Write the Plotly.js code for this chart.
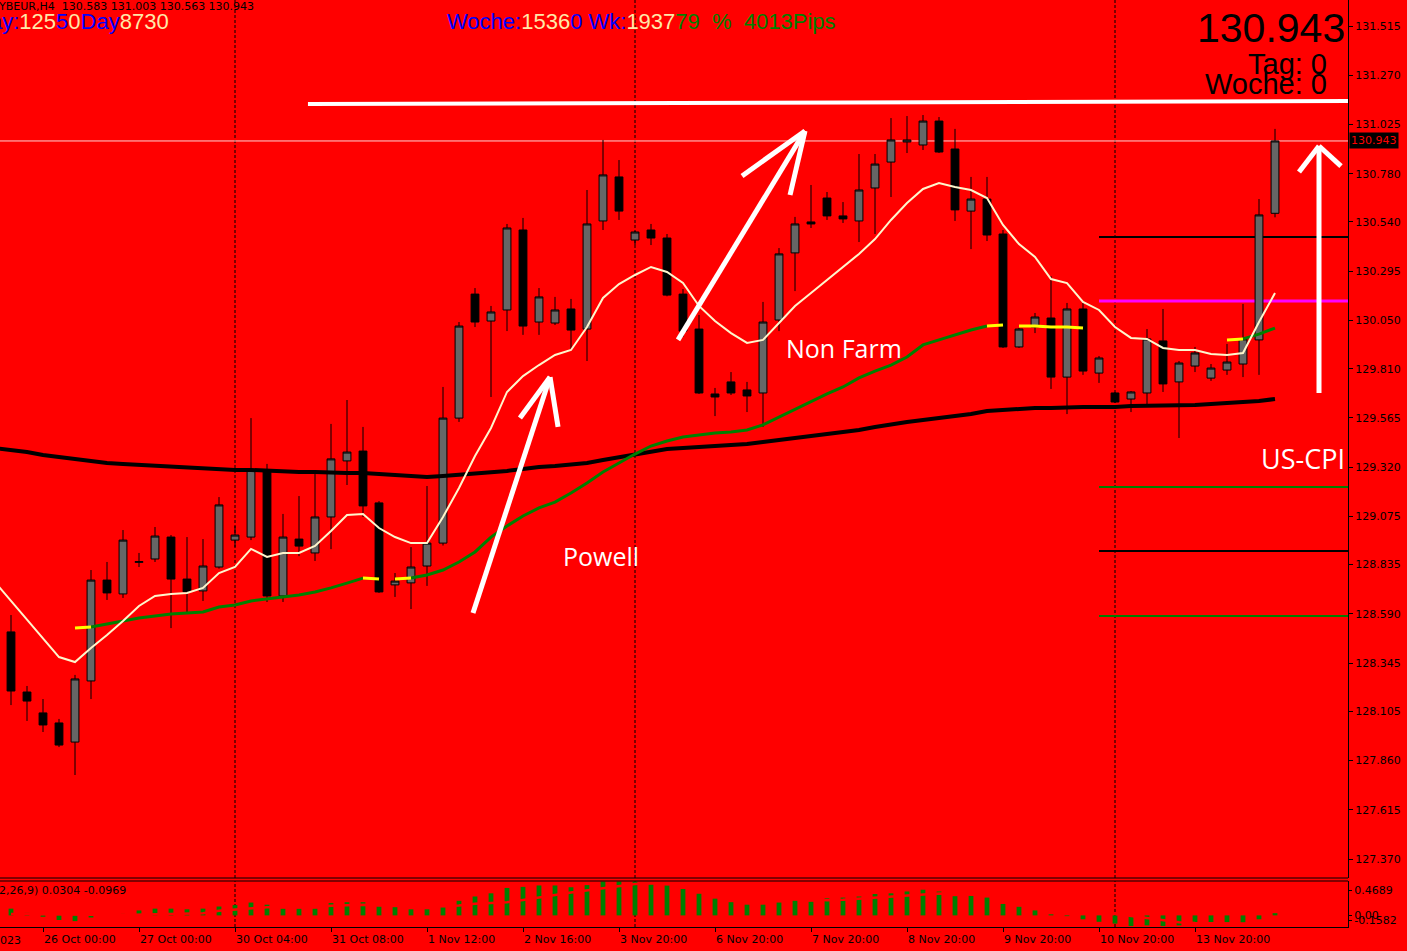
<!DOCTYPE html>
<html><head><meta charset="utf-8">
<script src="https://cdn.plot.ly/plotly-3.0.1.min.js"></script>
<style>html,body{margin:0;padding:0;background:#FF0000;overflow:hidden}</style>
</head><body><div id="chart" style="width:1407px;height:951px"></div>
<script>
// ---------- DATA ----------
const barIndex = Array.from({length: 81}, (_, k) => k - 1); // bar -1 .. 79 (H4 bars)

const openP = [128.694,128.500,128.201,128.097,128.047,127.952,128.256,128.758,128.689,128.846,128.863,128.972,128.763,128.704,128.823,128.957,128.972,129.306,128.679,128.962,128.893,129.072,129.351,129.400,129.142,128.734,128.744,128.828,128.942,129.564,130.181,130.047,130.102,130.500,130.042,130.037,130.107,130.007,130.545,130.764,130.450,130.500,130.460,130.181,130.007,129.684,129.744,129.704,129.689,130.052,130.386,130.540,130.659,130.570,130.545,130.709,130.838,130.938,130.923,131.042,130.903,130.594,130.654,130.480,129.918,130.017,130.062,129.768,130.107,129.788,129.689,129.659,129.689,129.948,129.744,129.823,129.763,129.803,129.833,129.953,130.583];
const highP = [128.758,128.584,128.231,128.166,128.067,128.286,128.808,128.848,129.007,128.893,129.022,128.982,128.972,128.962,129.171,129.027,129.564,129.336,129.087,129.176,129.286,129.535,129.654,129.520,129.151,128.793,128.922,129.226,129.719,130.042,130.211,130.122,130.530,130.560,130.211,130.167,130.157,130.699,130.948,130.848,130.495,130.530,130.480,130.206,130.077,129.714,129.793,129.744,130.142,130.410,130.565,130.724,130.689,130.639,130.878,130.878,131.057,131.067,131.072,131.062,131.003,130.764,130.764,130.500,130.012,130.087,130.271,130.137,130.137,129.873,129.694,129.699,130.007,130.107,129.848,129.918,129.833,129.933,130.132,130.654,131.003];
const lowP = [128.460,128.136,128.057,128.002,127.927,127.788,128.166,128.659,128.669,128.823,128.848,128.519,128.599,128.654,128.815,128.922,128.957,128.649,128.649,128.877,128.853,128.912,129.231,129.072,128.694,128.674,128.614,128.729,128.930,129.545,130.017,129.669,129.997,129.978,129.978,130.027,129.903,129.848,130.500,130.550,130.425,130.425,130.170,129.968,129.684,129.574,129.679,129.594,129.520,129.997,130.196,130.510,130.550,130.535,130.440,130.480,130.664,130.883,130.898,130.883,130.545,130.405,130.445,129.913,129.913,129.987,129.709,129.584,129.779,129.739,129.639,129.594,129.634,129.694,129.465,129.793,129.749,129.779,129.768,129.779,130.563];
const closeP = [128.510,128.206,128.156,128.037,127.937,128.266,128.758,128.694,128.957,128.850,128.977,128.763,128.699,128.828,129.132,128.982,129.306,128.679,128.972,128.927,129.072,129.361,129.395,129.127,128.699,128.753,128.823,128.942,129.564,130.022,130.042,130.092,130.510,130.022,130.167,130.102,130.002,130.530,130.774,130.594,130.490,130.460,130.176,129.997,129.689,129.669,129.689,129.674,130.042,130.381,130.530,130.530,130.570,130.555,130.699,130.828,130.948,130.948,131.042,130.888,130.600,130.654,130.475,129.918,130.007,130.067,129.768,130.107,129.798,129.863,129.644,129.694,129.958,129.734,129.838,129.888,129.813,129.843,129.958,130.575,130.943];

const fastMA = [128.748,128.654,128.559,128.470,128.375,128.350,128.420,128.485,128.554,128.629,128.679,128.689,128.694,128.719,128.793,128.823,128.913,128.873,128.893,128.893,128.928,129.002,129.082,129.087,129.017,128.972,128.942,128.942,129.072,129.216,129.375,129.515,129.694,129.773,129.828,129.878,129.903,130.017,130.162,130.231,130.276,130.316,130.291,130.236,130.122,130.047,129.987,129.938,129.953,130.037,130.122,130.186,130.251,130.316,130.381,130.455,130.550,130.634,130.704,130.734,130.714,130.699,130.659,130.525,130.430,130.366,130.256,130.236,130.142,130.102,130.017,129.963,129.958,129.913,129.903,129.903,129.883,129.878,129.888,130.042,130.186];
const midMA = [null,null,null,null,null,128.520,128.524,128.539,128.554,128.569,128.579,128.589,128.594,128.599,128.624,128.634,128.654,128.664,128.674,128.684,128.699,128.719,128.743,128.768,128.763,128.763,128.768,128.783,128.808,128.848,128.898,128.972,129.027,129.077,129.117,129.146,129.191,129.241,129.296,129.341,129.385,129.425,129.450,129.470,129.480,129.490,129.495,129.505,129.530,129.569,129.604,129.644,129.684,129.719,129.764,129.798,129.828,129.868,129.928,129.953,129.977,130.002,130.022,130.027,130.022,130.022,130.017,130.017,130.012,130.002,129.987,129.977,129.968,129.958,129.953,129.948,129.948,129.953,129.958,129.982,130.012];
const slowMA = [129.415,129.405,129.395,129.380,129.370,129.360,129.350,129.341,129.336,129.331,129.326,129.321,129.316,129.311,129.311,129.306,129.306,129.301,129.301,129.296,129.296,129.291,129.291,129.291,129.286,129.281,129.276,129.271,129.276,129.281,129.291,129.296,129.301,129.311,129.321,129.326,129.331,129.341,129.355,129.370,129.385,129.400,129.410,129.415,129.420,129.425,129.430,129.435,129.445,129.455,129.465,129.475,129.485,129.495,129.505,129.520,129.535,129.545,129.555,129.564,129.574,129.584,129.599,129.604,129.609,129.614,129.614,129.619,129.619,129.619,129.619,129.624,129.624,129.624,129.629,129.629,129.634,129.639,129.644,129.649,129.659];

// mid MA colour state: rising (green) runs and transition (yellow) runs, given as bar numbers
const midGreenRuns = [[5,22],[25,61],[77,79]];
const midYellowRuns = [[4,5],[22,23],[24,25],[61,62],[63,67],[76,77]];

const macdMain = [0.092,0.034,-0.019,-0.063,-0.078,-0.029,0.005,0.02,0.068,0.092,0.092,0.083,0.092,0.121,0.141,0.175,0.146,0.092,0.092,0.092,0.170,0.180,0.180,0.121,0.112,0.083,0.083,0.112,0.199,0.258,0.301,0.374,0.389,0.408,0.408,0.384,0.413,0.462,0.462,0.462,0.447,0.408,0.360,0.295,0.228,0.180,0.146,0.146,0.175,0.199,0.185,0.233,0.243,0.258,0.292,0.301,0.326,0.350,0.326,0.262,0.272,0.243,0.156,0.117,0.068,0.015,-0.010,-0.053,-0.087,-0.112,-0.146,-0.136,-0.146,-0.136,-0.097,-0.112,-0.112,-0.112,-0.053,0.0304];
const macdSignal = [0.02,0.025,0.02,0.015,0.01,0.008,0.006,0.006,0.01,0.015,0.02,0.02,0.03,0.063,0.078,0.092,0.112,0.11,0.11,0.11,0.13,0.14,0.146,0.14,0.135,0.13,0.125,0.125,0.136,0.16,0.17,0.18,0.209,0.238,0.277,0.311,0.340,0.379,0.408,0.428,0.437,0.432,0.418,0.40,0.37,0.34,0.31,0.28,0.26,0.24,0.225,0.205,0.214,0.228,0.243,0.258,0.272,0.292,0.297,0.29,0.285,0.275,0.25,0.22,0.19,0.15,0.12,0.09,0.05,0.02,-0.015,-0.04,-0.07,-0.095,-0.105,-0.11,-0.11,-0.11,-0.105,-0.0969];

const levelPrices = [130.465, 130.147, 129.221, 128.903, 128.579];
const levelColors = ['#000000', '#FF00FF', '#008000', '#000000', '#008000'];
const levelStartBar = 68;
const weekStartBars = [14, 39, 69];

const timeTickBars = [2, 8, 14, 20, 26, 32, 38, 44, 50, 56, 62, 68, 74];
const timeTickText = ['26 Oct 00:00','27 Oct 00:00','30 Oct 04:00','31 Oct 08:00','1 Nov 12:00','2 Nov 16:00','3 Nov 20:00','6 Nov 20:00','7 Nov 20:00','8 Nov 20:00','9 Nov 20:00','10 Nov 20:00','13 Nov 20:00'];
const priceTicks = [131.515,131.270,131.025,130.780,130.540,130.295,130.050,129.810,129.565,129.320,129.075,128.835,128.590,128.345,128.105,127.860,127.615,127.370];
const macdScaleMax = 0.4689, macdScaleMin = -0.1582;
const macdTickText = ['0.4689', '0.00', '-0.1582'];

// ---------- LAYOUT HELPERS ----------
const PW = 1348, PH = 927;
const PX = x => x / PW;
const PY = y => (PH - y) / PH;
const xRange = [-0.6875, 83.5625];
const yRange = [127.2755, 131.6444];
const macdRange = [macdScaleMin, macdScaleMax];
// MT4 prints the window's max/min labels slightly inside the panel edges
const macdPerPx = (macdScaleMax - macdScaleMin) / 46;
const macdTickPos = [macdScaleMax - 9 * macdPerPx, 0, macdScaleMin + 7 * macdPerPx];
const fmt = v => v.toFixed(3);
const last = closeP.length - 1;

function runsTrace(runs, arr) {
  const xs = [], ys = [];
  runs.forEach(([a, b]) => {
    for (let b2 = a; b2 <= b; b2++) { xs.push(b2); ys.push(arr[b2 + 1]); }
    xs.push(null); ys.push(null);
  });
  return {xs, ys};
}
const gRuns = runsTrace(midGreenRuns, midMA);
const yRuns = runsTrace(midYellowRuns, midMA);

const traces = [
  {type: 'candlestick', x: barIndex, open: openP, high: highP, low: lowP, close: closeP,
   increasing: {line: {color: '#000000', width: 1}, fillcolor: '#666666'},
   decreasing: {line: {color: '#000000', width: 1}, fillcolor: '#000000'},
   whiskerwidth: 0, hoverinfo: 'skip', xaxis: 'x', yaxis: 'y'},
  {type: 'scatter', mode: 'lines', x: barIndex, y: slowMA, line: {color: '#000000', width: 4}, hoverinfo: 'skip'},
  {type: 'scatter', mode: 'lines', x: gRuns.xs, y: gRuns.ys, line: {color: '#008000', width: 3}, connectgaps: false, hoverinfo: 'skip'},
  {type: 'scatter', mode: 'lines', x: yRuns.xs, y: yRuns.ys, line: {color: '#FFFF00', width: 3}, connectgaps: false, hoverinfo: 'skip'},
  {type: 'scatter', mode: 'lines', x: barIndex, y: fastMA, line: {color: '#FFF6CC', width: 2}, hoverinfo: 'skip'},
  {type: 'bar', x: barIndex.slice(1), y: macdMain, width: 0.3, marker: {color: '#008000', line: {width: 0}}, xaxis: 'x', yaxis: 'y2', hoverinfo: 'skip'},
  {type: 'scatter', mode: 'lines', x: barIndex.slice(1), y: macdSignal, line: {color: '#FF0000', width: 2.5}, xaxis: 'x', yaxis: 'y2', hoverinfo: 'skip'}
];

const shapes = [];
weekStartBars.forEach(b => {
  shapes.push({type: 'line', xref: 'x', yref: 'y domain', x0: b, x1: b, y0: 0, y1: 1, line: {color: '#000', width: 1, dash: '3px,2px'}, layer: 'below'});
  shapes.push({type: 'line', xref: 'x', yref: 'y2 domain', x0: b, x1: b, y0: 0, y1: 1, line: {color: '#000', width: 1, dash: '3px,2px'}, layer: 'below'});
});
levelPrices.forEach((p, k) => {
  shapes.push({type: 'line', xref: 'x', yref: 'y', x0: levelStartBar, x1: xRange[1], y0: p, y1: p, line: {color: levelColors[k], width: k === 1 ? 3 : 2}, layer: 'below'});
});
shapes.push({type: 'line', xref: 'x', yref: 'y', x0: xRange[0], x1: xRange[1], y0: closeP[last], y1: closeP[last], line: {color: '#FFD0D0', width: 1}, layer: 'below'});
// hand-drawn objects
const white = {color: '#FFFFFF', width: 5};
const seg = (x0, y0, x1, y1, w) => shapes.push({type: 'line', xref: 'x', yref: 'y', x0, y0, x1, y1, line: w || white});
seg(18.56, 131.127, 83.69, 131.142, {color: '#FFFFFF', width: 4});
seg(28.875, 128.594, 33.69, 129.768); seg(33.69, 129.768, 31.81, 129.564); seg(33.69, 129.768, 34.19, 129.520);
seg(41.69, 129.953, 49.625, 130.993); seg(49.625, 130.993, 45.69, 130.769); seg(49.625, 130.993, 48.69, 130.674);
seg(81.75, 129.689, 81.75, 130.918); seg(81.75, 130.918, 80.5, 130.789); seg(81.75, 130.918, 83.125, 130.818);
// panel borders
shapes.push({type: 'line', xref: 'paper', yref: 'paper', x0: 0, x1: 1, y0: PY(878), y1: PY(878), line: {color: '#000', width: 1}});
shapes.push({type: 'line', xref: 'paper', yref: 'paper', x0: 0, x1: 1, y0: PY(881), y1: PY(881), line: {color: '#000', width: 1}});

const BLUE = '#0000FF', BEIGE = '#FFE8A8', GREEN = '#008000';
const sp = (c, t) => `<span style="color:${c}">${t}</span>`;
const NB = '\u00A0';
const annotations = [
  {xref: 'paper', yref: 'paper', x: PX(-4), y: PY(7), xanchor: 'left', yanchor: 'middle', showarrow: false,
   text: `YBEUR,H4${NB}${NB}${fmt(openP[last])} ${fmt(highP[last])} ${fmt(lowP[last])} ${fmt(closeP[last])}`,
   font: {family: 'DejaVu Sans', size: 11, color: '#000'}},
  {xref: 'paper', yref: 'paper', x: PX(-12), y: PY(22), xanchor: 'left', yanchor: 'middle', showarrow: false,
   text: sp(BLUE, 'ay:') + sp(BEIGE, '125') + sp(BLUE, '5') + sp(BEIGE, '0') + sp(BLUE, 'Day') + sp(BEIGE, '8730'),
   font: {family: 'Liberation Sans', size: 22, color: BLUE}},
  {xref: 'paper', yref: 'paper', x: PX(445), y: PY(22), xanchor: 'left', yanchor: 'middle', showarrow: false,
   text: sp(BLUE, 'Woche:') + sp(BEIGE, '1536') + sp(BLUE, '0 Wk:') + sp(BEIGE, '1937') + sp(GREEN, `79${NB}${NB}%${NB}${NB}4013Pips`),
   font: {family: 'Liberation Sans', size: 22, color: BLUE}},
  {xref: 'paper', yref: 'paper', x: PX(1347), y: PY(28), xanchor: 'right', yanchor: 'middle', showarrow: false,
   text: fmt(closeP[last]), font: {family: 'Liberation Sans', size: 41, color: '#000'}},
  {xref: 'paper', yref: 'paper', x: PX(1329), y: PY(64), xanchor: 'right', yanchor: 'middle', showarrow: false,
   text: 'Tag: 0', font: {family: 'Liberation Sans', size: 29, color: '#000'}},
  {xref: 'paper', yref: 'paper', x: PX(1329), y: PY(84), xanchor: 'right', yanchor: 'middle', showarrow: false,
   text: 'Woche: 0', font: {family: 'Liberation Sans', size: 29, color: '#000'}},
  {xref: 'paper', yref: 'paper', x: PX(601), y: PY(556), xanchor: 'center', yanchor: 'middle', showarrow: false,
   text: 'Powell', font: {family: 'Open Sans', size: 25, color: '#FFFFFF'}},
  {xref: 'paper', yref: 'paper', x: PX(844), y: PY(348), xanchor: 'center', yanchor: 'middle', showarrow: false,
   text: 'Non Farm', font: {family: 'Open Sans', size: 25, color: '#FFFFFF'}},
  {xref: 'paper', yref: 'paper', x: PX(1259), y: PY(458), xanchor: 'left', yanchor: 'middle', showarrow: false,
   text: 'US-CPI', font: {family: 'Open Sans', size: 27, color: '#FFFFFF'}},
  {xref: 'paper', yref: 'y', x: 1, y: closeP[last], xanchor: 'left', yanchor: 'middle', xshift: 1, showarrow: false,
   text: fmt(closeP[last]), bgcolor: '#000000', borderpad: 1, font: {family: 'DejaVu Sans', size: 11, color: '#FF0000'}},
  {xref: 'paper', yref: 'paper', x: PX(-3), y: PY(890), xanchor: 'left', yanchor: 'middle', showarrow: false,
   text: `2,26,9) ${macdMain[macdMain.length-1].toFixed(4)} ${macdSignal[macdSignal.length-1].toFixed(4)}`,
   font: {family: 'DejaVu Sans', size: 11, color: '#000'}},
  {xref: 'paper', yref: 'paper', x: PX(23), y: PY(940), xanchor: 'right', yanchor: 'middle', showarrow: false,
   text: '25 Oct 2023', font: {family: 'DejaVu Sans', size: 11, color: '#000'}}
];

const axFont = {family: 'DejaVu Sans', size: 11, color: '#000'};
const layout = {
  width: 1407, height: 951,
  margin: {l: 0, r: 59, t: 0, b: 24, pad: 0},
  paper_bgcolor: '#FF0000', plot_bgcolor: '#FF0000',
  showlegend: false, dragmode: false, hovermode: false,
  font: axFont,
  xaxis: {range: xRange, anchor: 'y2', tickmode: 'array', tickvals: timeTickBars, ticktext: timeTickText,
    ticks: 'outside', ticklen: 4, tickcolor: '#000', ticklabelposition: 'outside right', ticklabelstandoff: 2, tickfont: axFont,
    showgrid: false, zeroline: false, showline: true, linecolor: '#000', linewidth: 1,
    rangeslider: {visible: false}, fixedrange: true},
  yaxis: {domain: [PY(878), 1], range: yRange, side: 'right', anchor: 'x', tickmode: 'array', tickvals: priceTicks,
    tickformat: '.3f', ticks: 'outside', ticklen: 4, tickcolor: '#000', tickfont: axFont,
    showgrid: false, zeroline: false, showline: true, linecolor: '#000', linewidth: 1, fixedrange: true},
  yaxis2: {domain: [0, PY(881)], range: macdRange, side: 'right', anchor: 'x', tickmode: 'array', tickvals: macdTickPos,
    ticktext: macdTickText, ticks: 'outside', ticklen: 3, tickcolor: '#000', tickfont: axFont,
    showgrid: false, zeroline: false, showline: true, linecolor: '#000', linewidth: 1, fixedrange: true},
  shapes, annotations
};

Plotly.newPlot('chart', traces, layout, {displayModeBar: false, staticPlot: true});
</script></body></html>
